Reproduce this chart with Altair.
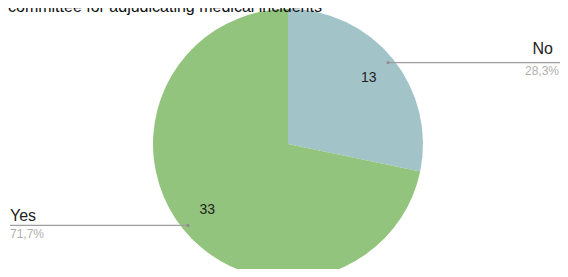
import altair as alt
import pandas as pd

categories = ["No", "Yes"]
values = [13, 33]
percents = ["28,3%", "71,7%"]
slice_order = [0, 1]
colors = ["#a2c4c9", "#93c47d"]
title_text = "committee for adjudicating medical incidents"

df = pd.DataFrame({"category": categories, "value": values, "pct": percents, "order": slice_order})

FONT = "Liberation Sans"
W, H = 552, 261
CX, CY, R = 280, 136, 135

base = alt.Chart(df)

arc = base.mark_arc(outerRadius=R).encode(
    theta=alt.Theta("value:Q", stack=True),
    color=alt.Color("category:N", scale=alt.Scale(domain=categories, range=colors), legend=None),
    order=alt.Order("order:Q"),
    x=alt.value(CX),
    y=alt.value(CY),
)

vals = base.mark_text(radius=104, font=FONT, fontSize=14, color="#222222").encode(
    theta=alt.Theta("value:Q", stack=True),
    order=alt.Order("order:Q"),
    text=alt.Text("value:Q"),
    x=alt.value(CX),
    y=alt.value(CY),
)

geo = (
    base.transform_joinaggregate(total="sum(value)")
    .transform_window(cum="sum(value)", sort=[alt.SortField("order")], frame=[None, 0])
    .transform_calculate(mid="(datum.cum - datum.value/2) / datum.total * 2 * PI")
    .transform_calculate(
        ax=f"{CX} + 129 * sin(datum.mid)",
        ay=f"{CY} - 129 * cos(datum.mid)",
        right="sin(datum.mid) > 0",
    )
    .transform_calculate(
        ex=f"datum.right ? {W} : 2",
        ny="datum.right ? datum.ay - 9 : datum.ay - 4",
        py="datum.ay + 12.5",
    )
)

lines = geo.mark_rule(color="#9e9e9e", strokeWidth=1.4).encode(
    x=alt.X("ax:Q", scale=None), x2="ex:Q", y=alt.Y("ay:Q", scale=None)
)
dots = geo.mark_circle(size=10, color="#8e8e8e", opacity=1).encode(
    x=alt.X("ax:Q", scale=None), y=alt.Y("ay:Q", scale=None)
)

right = geo.transform_filter("datum.right")
left = geo.transform_filter("!datum.right")

name_r = right.mark_text(align="right", baseline="alphabetic", font=FONT, fontSize=16, color="#222222").encode(
    x=alt.value(545), y=alt.Y("ny:Q", scale=None), text="category:N"
)
pct_r = right.mark_text(align="right", baseline="alphabetic", font=FONT, fontSize=12, color="#b0b0b0").encode(
    x=alt.value(551), y=alt.Y("py:Q", scale=None), text="pct:N"
)
name_l = left.mark_text(align="left", baseline="alphabetic", font=FONT, fontSize=16, color="#222222").encode(
    x=alt.value(2), y=alt.Y("ny:Q", scale=None), text="category:N"
)
pct_l = left.mark_text(align="left", baseline="alphabetic", font=FONT, fontSize=12, color="#b0b0b0").encode(
    x=alt.value(2), y=alt.Y("py:Q", scale=None), text="pct:N"
)

title = alt.Chart(pd.DataFrame({"t": [title_text]})).mark_text(
    align="left", baseline="alphabetic", font=FONT, fontSize=16, color="#111111"
).encode(x=alt.value(0), y=alt.value(4), text="t:N")

chart = alt.layer(arc, vals, lines, dots, name_r, pct_r, name_l, pct_l, title).properties(
    width=W, height=H, autosize=alt.AutoSizeParams(type="none"), padding=0
).configure_view(stroke=None)

chart.save("out.html", embed_options={"renderer": "svg", "actions": False})
